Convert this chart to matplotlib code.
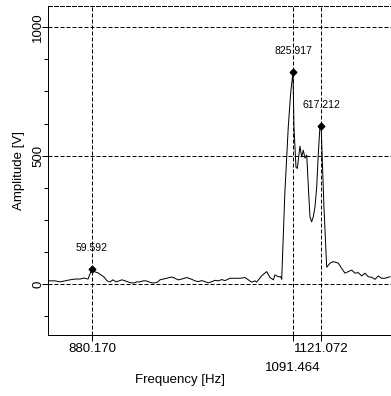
import matplotlib
matplotlib.use("Agg")
import matplotlib.pyplot as plt
from matplotlib.ticker import MultipleLocator
import matplotlib.transforms as mtransforms

plt.rcParams['font.family'] = ['Liberation Sans', 'DejaVu Sans']

# Spectrum trace (frequency in Hz, amplitude in V)
freq = [833.9, 841.3, 846.5, 851.8, 857.0, 862.3, 867.6, 871.8, 876.0, 880.170,
        883.3, 886.5, 889.6, 892.8, 895.9, 899.1, 902.2, 905.4, 908.6, 911.7,
        914.9, 918.0, 921.2, 924.3, 927.5, 930.6, 933.8, 936.9, 940.1, 943.2,
        946.4, 949.5, 951.6, 955.1, 958.7, 963.9, 967.4, 970.9, 974.5, 979.7,
        985.0, 988.4, 991.9, 995.5, 999.0, 1002.4, 1006.0, 1009.5, 1013.0, 1016.5,
        1020.0, 1025.2, 1030.5, 1035.8, 1041.0, 1044.5, 1048.0, 1051.5, 1053.3, 1058.6,
        1063.8, 1067.3, 1070.8, 1072.5, 1076.0, 1078.5, 1079.6, 1082.9, 1086.5, 1089.0,
        1091.464, 1092.5, 1094.6, 1096.0, 1098.8, 1100.6, 1102.3, 1104.1, 1105.9, 1107.6,
        1109.3, 1111.1, 1112.8, 1114.6, 1116.4, 1118.1, 1119.8, 1121.072, 1122.3, 1124.0,
        1125.6, 1126.9, 1130.4, 1133.8, 1139.1, 1142.6, 1146.1, 1149.6, 1153.2, 1156.6,
        1160.1, 1163.7, 1167.2, 1170.6, 1174.2, 1177.7, 1181.1, 1184.7, 1188.1, 1193.4]
amp = [12, 12, 8, 12, 16, 19, 19, 23, 19, 59.592,
       47, 43, 35, 27, 12, 8, 16, 8, 12, 16,
       12, 8, 4, 4, 8, 8, 12, 12, 8, 4,
       4, 8, 16, 19, 22, 27, 22, 16, 19, 25,
       18, 12, 9, 13, 9, 4, 9, 14, 12, 17,
       13, 22, 22, 22, 25, 16, 7, 12, 7, 32,
       48, 25, 16, 35, 28, 28, 18, 354, 612, 743,
       825.917, 611, 455, 450, 537, 495, 521, 490, 502, 379,
       262, 242, 262, 301, 379, 509, 612, 617.212, 480, 300,
       170, 65, 81, 87, 81, 61, 42, 48, 54, 42,
       44, 31, 42, 28, 26, 18, 31, 22, 22, 28]

# Marked peaks
peak_freq = [880.170, 1091.464, 1121.072]
peak_amp = [59.592, 825.917, 617.212]
peak_tick_labels = ['880.170', '1091.464', '1121.072']
y_ticks = [0, 500, 1000]

fig = plt.figure(figsize=(3.91, 3.96), dpi=100)
ax = fig.add_axes([48/391, 61/396, 1 - 48/391, (335-6)/396])

dash = (0, (4, 2))
lw = 0.72

ax.plot(freq, amp, color='black', lw=lw, zorder=3)
ax.plot(peak_freq, peak_amp, linestyle='none', marker='D', ms=3.4,
        color='black', zorder=4)
for f, a in zip(peak_freq, peak_amp):
    ax.annotate(f'{a:.3f}', (f, a), xytext=(0, 15), textcoords='offset points',
                ha='center', va='center', fontsize=7.5)

ax.set_xlim(833.9, 1194.5)
ax.set_ylim(-199, 1083)

# grid lines
for f in peak_freq:
    ax.axvline(f, color='black', lw=lw, linestyle=dash, zorder=2)
for y in y_ticks:
    ax.axhline(y, color='black', lw=lw, linestyle=dash, zorder=2)

ax.spines['right'].set_visible(False)
ax.spines['top'].set_linestyle(dash)
for s in ['left', 'bottom', 'top']:
    ax.spines[s].set_linewidth(lw)

ax.set_xticks(peak_freq)
ax.set_xticklabels([peak_tick_labels[0], '', peak_tick_labels[2]], fontsize=9.5)
trans = mtransforms.blended_transform_factory(ax.transData, ax.transAxes)
ax.text(peak_freq[1], -(362 - 335) / 329, peak_tick_labels[1], transform=trans,
        ha='center', va='top', fontsize=9.5)

ax.set_yticks(y_ticks)
ax.set_yticklabels([str(v) for v in y_ticks], rotation=90, va='center',
                   fontsize=9.5)
ax.yaxis.set_minor_locator(MultipleLocator(125))
ax.tick_params(axis='both', which='major', length=4, width=lw, direction='out')
ax.tick_params(axis='x', pad=2)
ax.tick_params(axis='y', pad=-1.2)
ax.tick_params(axis='y', which='minor', length=3, width=lw)

ax.set_xlabel('Frequency [Hz]', fontsize=9.5)
ax.xaxis.set_label_coords((180 - 48) / (391 - 48), -(374 - 335) / 329)
ax.set_ylabel('Amplitude [V]', fontsize=9.5)
ax.yaxis.set_label_coords(-(48 - 25) / 343, (335 - 170) / 329)

fig.savefig('out.png', dpi=100)
